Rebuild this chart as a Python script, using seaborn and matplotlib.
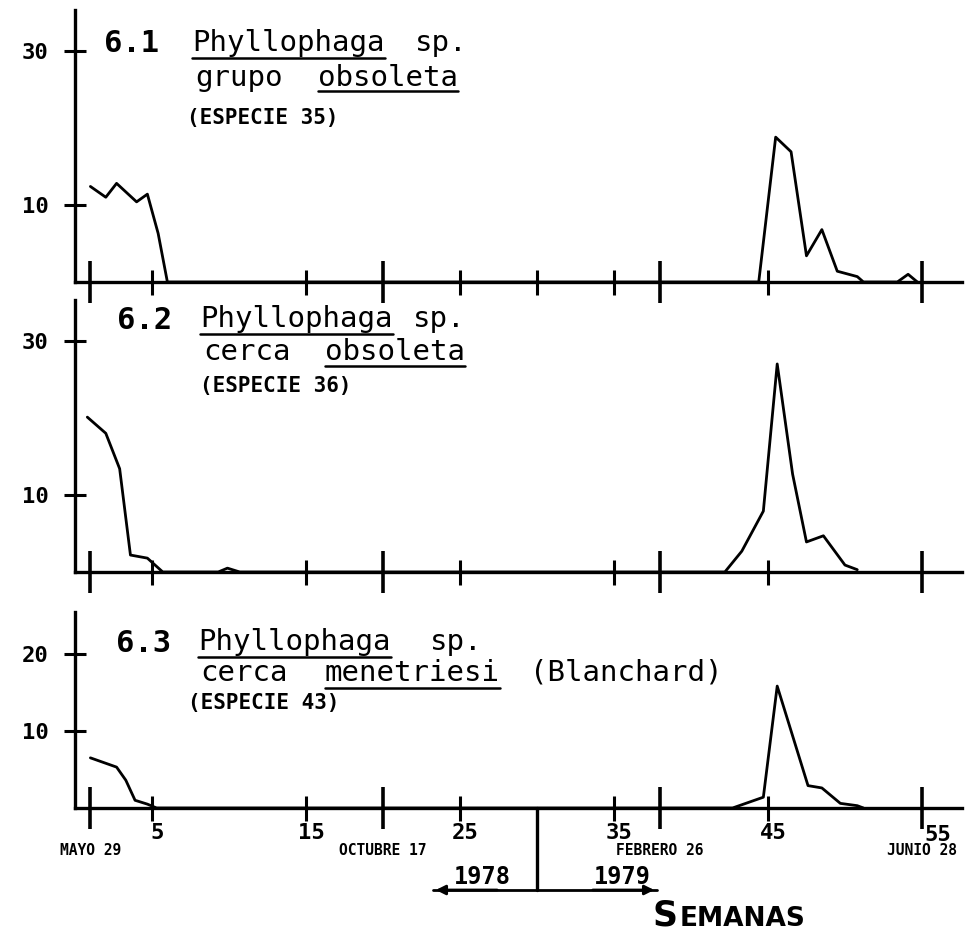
import matplotlib
matplotlib.use("Agg")
import matplotlib.pyplot as plt
import matplotlib.transforms as mtransforms
from matplotlib.lines import Line2D
import pandas as pd
import seaborn as sns

# ---------------- data ----------------
p1_weeks = [1.0, 2.0, 2.7, 4.0, 4.7, 5.4, 6.0, 44.4, 45.5, 46.5, 47.5, 48.5, 49.5, 50.8, 51.2, 53.4, 54.1, 54.7]
p1_vals = [12.4, 11.0, 12.8, 10.4, 11.4, 6.3, 0.0, 0.0, 18.8, 16.9, 3.4, 6.8, 1.4, 0.7, 0.0, 0.0, 1.0, 0.0]

p2_weeks = [0.8, 2.0, 2.9, 3.6, 4.7, 5.7, 9.3, 9.9, 10.7, 42.2, 43.3, 44.7, 45.6, 46.6, 47.5, 48.6, 50.0, 50.8]
p2_vals = [20.1, 18.0, 13.4, 2.2, 1.8, 0.0, 0.0, 0.5, 0.0, 0.0, 2.7, 7.9, 27.0, 12.7, 3.9, 4.7, 0.9, 0.3]

p3_weeks = [1.0, 2.7, 3.3, 3.9, 4.7, 5.3, 42.7, 44.7, 45.6, 47.6, 48.5, 49.7, 50.8, 51.2]
p3_vals = [6.5, 5.3, 3.6, 1.0, 0.5, 0.0, 0.0, 1.4, 15.8, 2.9, 2.6, 0.6, 0.3, 0.0]

major_weeks = [1, 20, 38, 55]
minor_weeks_top = [5, 15, 25, 30, 35, 45]
minor_weeks = [5, 15, 25, 35, 45]
major_labels = ["", "", "", "55"]
minor_labels = ["5", "15", "25", "35", "45"]
date_labels = ["MAYO 29", "OCTUBRE 17", "FEBRERO 26", "JUNIO 28"]
yticks_12 = [10, 30]
yticks_3 = [10, 20]

titles = [
    ("6.1", [("Phyllophaga", True), ("sp.", False)], [("grupo", False), ("obsoleta", True)], "(ESPECIE 35)"),
    ("6.2", [("Phyllophaga", True), ("sp.", False)], [("cerca", False), ("obsoleta", True)], "(ESPECIE 36)"),
    ("6.3", [("Phyllophaga", True), ("sp.", False)], [("cerca", False), ("menetriesi", True), ("(Blanchard)", False)], "(ESPECIE 43)"),
]
years = ["1978", "1979"]
xlabel_text = ("S", "EMANAS")

# ---------------- style ----------------
sns.set_style("ticks", rc={
    "axes.edgecolor": "black", "text.color": "black", "xtick.color": "black",
    "ytick.color": "black", "axes.labelcolor": "black",
    "xtick.bottom": True, "ytick.left": True,
})
plt.rcParams["font.family"] = ["DejaVu Sans Mono", "DejaVu Sans"]

W, H = 971, 933
fig = plt.figure(figsize=(W / 100, H / 100), dpi=100)


def px(x, y):
    return x / W, 1 - y / H


def add_axes(top, bottom):
    return fig.add_axes([75 / W, 1 - bottom / H, (962 - 75) / W, (bottom - top) / H])


ax1 = add_axes(10, 282)
ax2 = add_axes(300, 572)
ax3 = add_axes(612, 808)

panels = [
    (ax1, p1_weeks, p1_vals, 35.3, yticks_12, minor_weeks_top),
    (ax2, p2_weeks, p2_vals, 35.3, yticks_12, minor_weeks),
    (ax3, p3_weeks, p3_vals, 25.4, yticks_3, minor_weeks),
]

for i, (ax, wk, vals, ytop, yt, mw) in enumerate(panels):
    df = pd.DataFrame({"semana": wk, "n": vals})
    sns.lineplot(data=df, x="semana", y="n", ax=ax, color="black", lw=2.0,
                 errorbar=None, clip_on=False)
    ax.set_xlim(0, 57.6)
    ax.set_ylim(0, ytop)
    ax.set_xlabel("")
    ax.set_ylabel("")
    sns.despine(ax=ax)
    ax.spines["left"].set_linewidth(2.4)
    ax.spines["bottom"].set_linewidth(2.4)
    ax.patch.set_alpha(0)
    ax.set_yticks(yt)
    ax.set_yticklabels([str(v) for v in yt], fontsize=16, fontweight="bold")
    ax.tick_params(axis="y", which="major", left=True, direction="inout",
                   length=16, width=2.2, pad=11, colors="black")
    ax.tick_params(axis="y", which="minor", left=False)
    ax.set_xticks(major_weeks)
    ax.set_xticks(mw, minor=True)
    ax.tick_params(axis="x", which="major", bottom=True, direction="inout",
                   length=30, width=2.6, pad=-3, colors="black")
    ax.tick_params(axis="x", which="minor", bottom=True, direction="inout",
                   length=18, width=2.2, pad=2, colors="black")
    if i < 2:
        ax.tick_params(axis="x", which="both", labelbottom=False)
    else:
        ax.set_xticklabels(major_labels, fontsize=16, fontweight="bold")
        ax.set_xticklabels(minor_labels, minor=True, fontsize=16, fontweight="bold")
        # hand-lettered labels sit a little to the right of their ticks
        for lab in ax.get_xticklabels(minor=True):
            lab.set_transform(lab.get_transform()
                              + mtransforms.ScaledTranslation(5 / 100, 0, fig.dpi_scale_trans))
        for lab in ax.get_xticklabels():
            lab.set_transform(lab.get_transform()
                              + mtransforms.ScaledTranslation(16 / 100, 0, fig.dpi_scale_trans))

# ---------------- titles ----------------
renderer = fig.canvas.get_renderer()


def word(x, y, s, size, weight="normal", underline=False, uy=None):
    t = fig.text(*px(x, y), s, fontsize=size, fontweight=weight, ha="left", va="baseline")
    if underline:
        bb = t.get_window_extent(renderer)
        y_u = 1 - uy / H
        fig.add_artist(Line2D([bb.x0 / W, bb.x1 / W], [y_u, y_u], color="black", lw=1.8,
                              transform=fig.transFigure))
    return t


layout = [
    dict(num=(104, 52), l1x=[192, 415], l1y=51, u1=58, l2x=[195, 318], l2y=86, u2=91, esp=(187, 124)),
    dict(num=(117, 329), l1x=[200, 413], l1y=327, u1=334, l2x=[203, 325], l2y=360, u2=366, esp=(200, 392)),
    dict(num=(116, 652), l1x=[198, 430], l1y=650, u1=657, l2x=[200, 325, 530], l2y=681, u2=688, esp=(188, 709)),
]

for (num, line1, line2, esp), L in zip(titles, layout):
    word(L["num"][0], L["num"][1], num, 22, weight="bold")
    for (s, ul), x in zip(line1, L["l1x"]):
        word(x, L["l1y"], s, 21, underline=ul, uy=L["u1"])
    for (s, ul), x in zip(line2, L["l2x"]):
        word(x, L["l2y"], s, 21, underline=ul, uy=L["u2"])
    word(L["esp"][0], L["esp"][1], esp, 15, weight="bold")

# ---------------- date labels under bottom axis ----------------
trans = mtransforms.blended_transform_factory(ax3.transData, fig.transFigure)
for wk, lab in zip(major_weeks, date_labels):
    ax3.text(wk, 1 - 855 / H, lab, transform=trans, ha="center", va="baseline",
             fontsize=10.5, fontweight="bold")

# ---------------- year divider ----------------
ax3.plot([30, 30], [0, -(890 - 808) / 7.7], color="black", lw=2.4, clip_on=False)
fig.add_artist(Line2D([433 / W, 657 / W], [1 - 890 / H] * 2, color="black", lw=2.0,
                      transform=fig.transFigure))
ax3.annotate("", xy=px(433, 890), xytext=px(500, 890), xycoords="figure fraction",
             textcoords="figure fraction",
             arrowprops=dict(arrowstyle="-|>", color="black", lw=2.0, mutation_scale=14))
ax3.annotate("", xy=px(657, 890), xytext=px(590, 890), xycoords="figure fraction",
             textcoords="figure fraction",
             arrowprops=dict(arrowstyle="-|>", color="black", lw=2.0, mutation_scale=14))
fig.text(*px(482, 884), years[0], fontsize=17, fontweight="bold", ha="center", va="baseline")
fig.text(*px(622, 884), years[1], fontsize=17, fontweight="bold", ha="center", va="baseline")

# ---------------- axis title ----------------
t_s = fig.text(*px(652, 926), xlabel_text[0], fontsize=25, fontweight="bold",
               family="DejaVu Sans", ha="left", va="baseline")
bb = t_s.get_window_extent(renderer)
fig.text(bb.x1 / W + 3 / W, 1 - 926 / H, xlabel_text[1], fontsize=19, fontweight="bold",
         family="DejaVu Sans", ha="left", va="baseline")

fig.savefig("out.png", dpi=100, facecolor="white")
